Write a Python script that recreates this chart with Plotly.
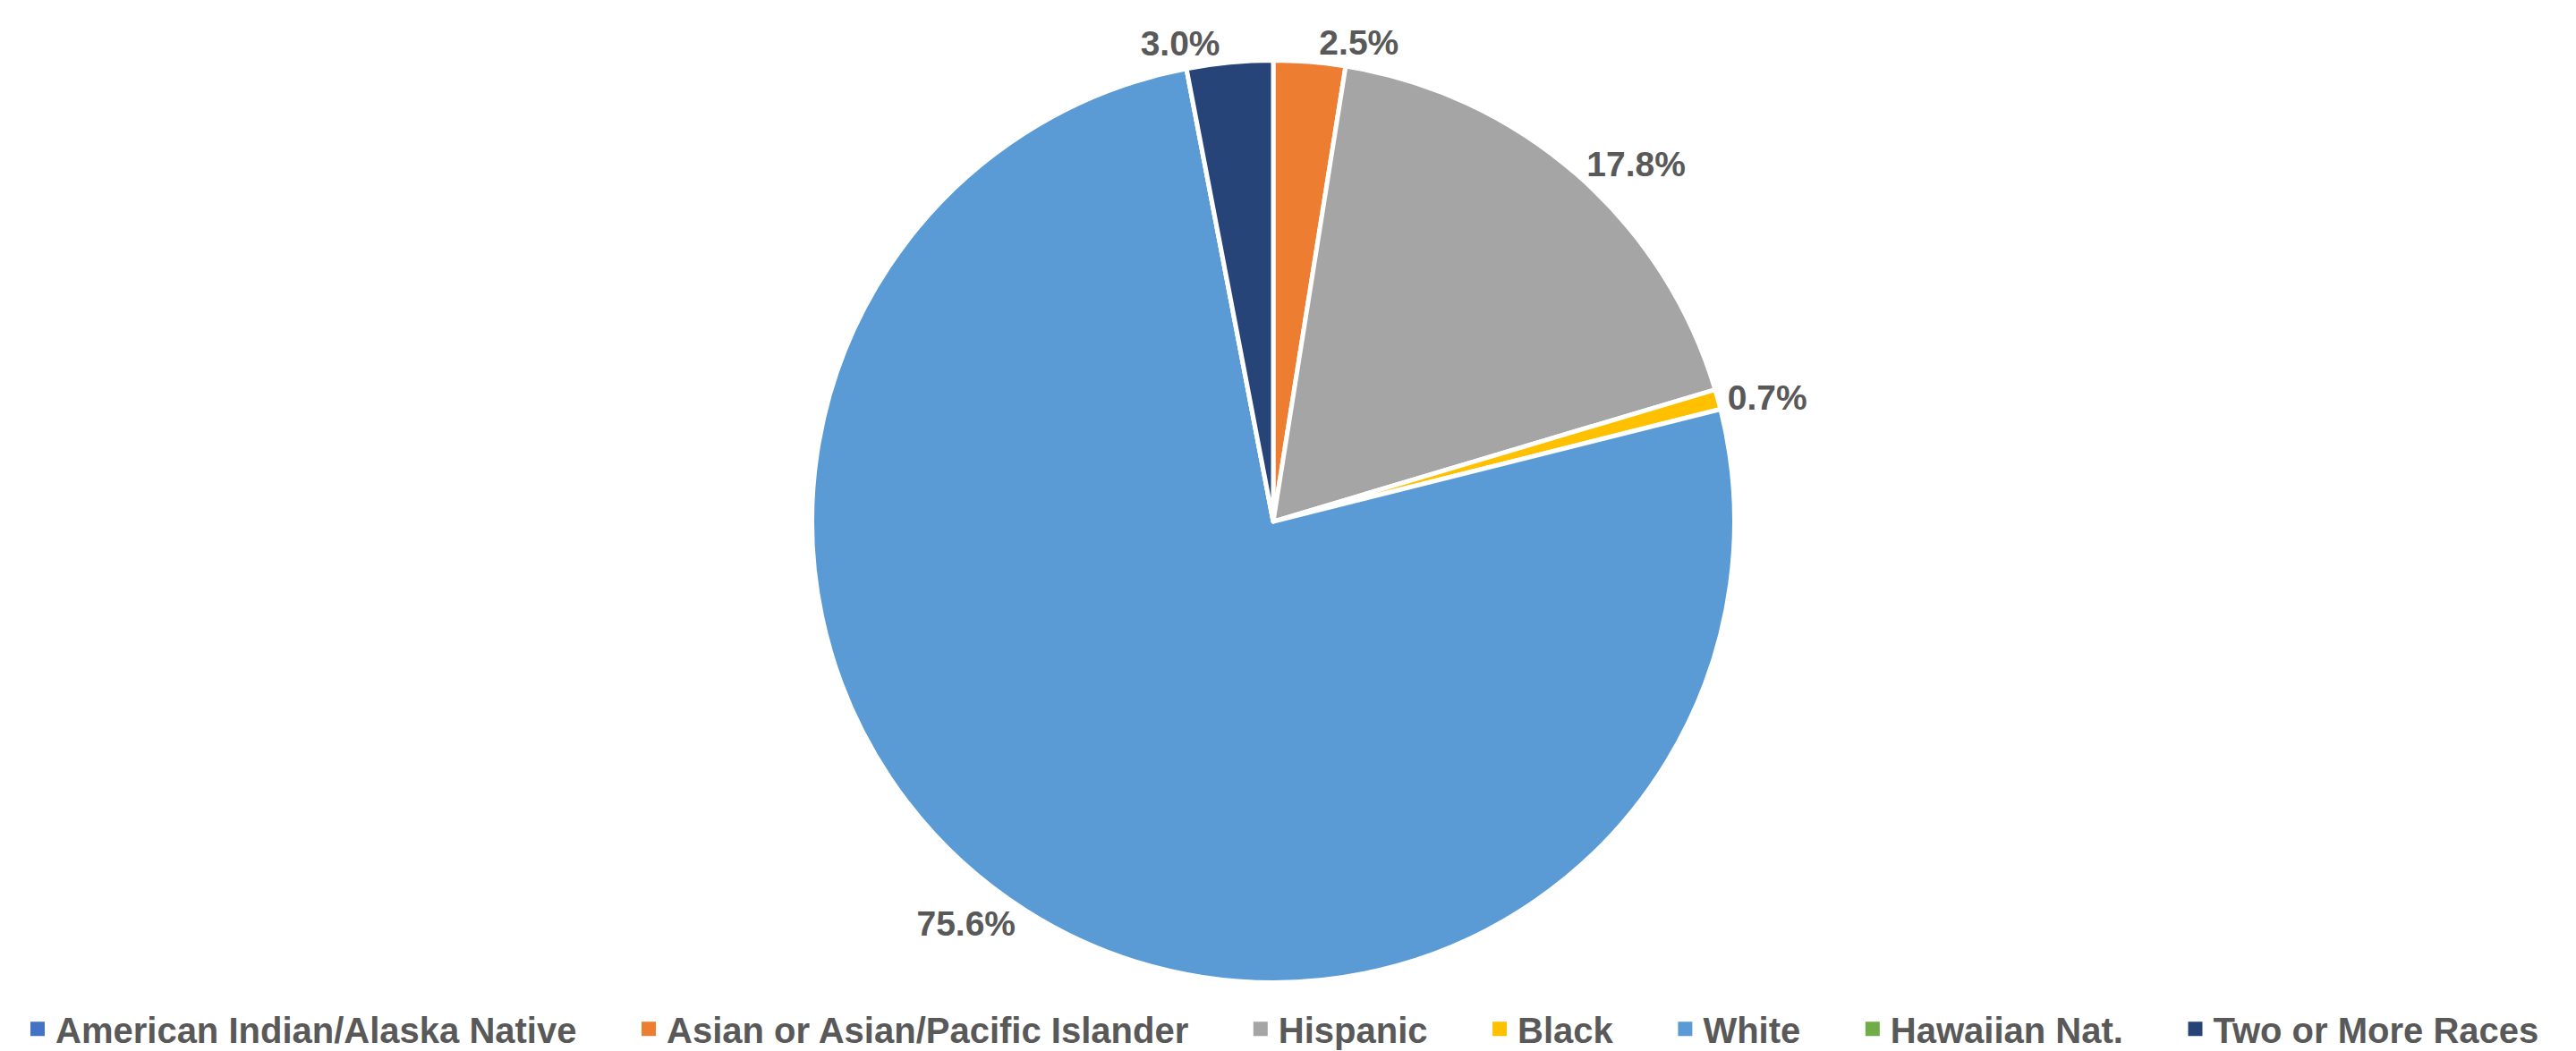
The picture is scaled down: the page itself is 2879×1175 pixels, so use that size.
import plotly.graph_objects as go

categories = ["American Indian/Alaska Native", "Asian or Asian/Pacific Islander",
              "Hispanic", "Black", "White", "Hawaiian Nat.", "Two or More Races"]
values = [0.0, 2.5, 17.8, 0.7, 75.6, 0.0, 3.0]
colors = ["#4472C4", "#ED7D31", "#A5A5A5", "#FFC000", "#5B9BD5", "#70AD47", "#264478"]

FONT = "Liberation Sans, Arial, sans-serif"
TXT = "#595959"
W, H = 2879, 1175

labels_text = [f"{v:.1f}%" if v > 0 else "" for v in values]

CX, CY, D = 1415, 579, 1038
fig = go.Figure()
fig.add_trace(go.Pie(
    labels=categories,
    values=values,
    sort=False,
    direction="clockwise",
    rotation=0,
    marker=dict(colors=colors, line=dict(color="white", width=5)),
    text=labels_text,
    textinfo="text",
    textposition="outside",
    textfont=dict(family=FONT, size=39, color=TXT, weight="bold"),
    hoverinfo="label+value",
    showlegend=False,
    domain=dict(x=[(CX - D / 2) / W, (CX + D / 2) / W],
                y=[1 - (CY + D / 2) / H, 1 - (CY - D / 2) / H]),
))

# legend entries (square swatches) matching the slice colours
PAD = "\u00a0" * 5
for i, (name, col) in enumerate(zip(categories, colors)):
    fig.add_trace(go.Scatter(
        x=[None], y=[None], mode="markers",
        marker=dict(symbol="square", size=16, color=col),
        name=name + (PAD if i < len(categories) - 1 else ""),
        showlegend=True, hoverinfo="skip",
    ))

fig.update_layout(
    width=W, height=H,
    margin=dict(l=0, r=0, t=0, b=0),
    paper_bgcolor="white", plot_bgcolor="white",
    xaxis=dict(visible=False), yaxis=dict(visible=False),
    showlegend=True,
    legend=dict(orientation="h", x=14 / W, xanchor="left", y=1 - 1150 / H, yanchor="middle",
                font=dict(family=FONT, size=40, color=TXT, weight="bold"),
                bgcolor="rgba(0,0,0,0)"),
    font=dict(family=FONT, color=TXT),
)

fig.write_html("out.html")
